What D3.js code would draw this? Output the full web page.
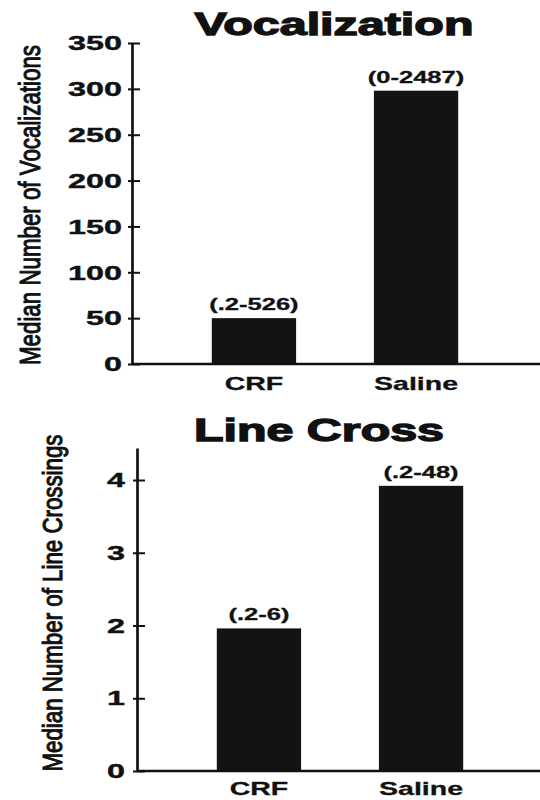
<!DOCTYPE html>
<html>
<head>
<meta charset="utf-8">
<script src="https://cdn.jsdelivr.net/npm/d3@7"></script>
<style>
  body { margin: 0; background: #fff; }
  text { font-family: "Liberation Sans", Arial, Helvetica, sans-serif; fill: #111; }
</style>
</head>
<body>
<div id="chart"></div>
<script>
// data
var categories = ["CRF", "Saline"];

var vocalMedians = [50, 298];
var vocalRanges = ["(.2-526)", "(0-2487)"];
var vocalTicks = [0, 50, 100, 150, 200, 250, 300, 350];

var crossMedians = [1.96, 3.92];
var crossRanges = ["(.2-6)", "(.2-48)"];
var crossTicks = [0, 1, 2, 3, 4];

var W = 540, H = 800;
var ink = "#111";

var svg = d3.select("#chart").append("svg")
    .attr("width", W)
    .attr("height", H);

// the original figure is stretched sideways, so widen horizontal text
function widen(sel, k) {
  sel.each(function() {
    var w = this.getComputedTextLength();
    d3.select(this)
      .attr("textLength", w * k)
      .attr("lengthAdjust", "spacingAndGlyphs");
  });
}

// one panel = title, y axis, bars, range labels, category labels
function panel(opt) {
  var g = svg.append("g");

  var y = d3.scaleLinear()
      .domain([0, opt.yMax])
      .range([opt.y0, opt.yTop]);

  var x = d3.scaleBand()
      .domain(categories)
      .range([opt.left + 2, opt.left + 404])
      .paddingInner(0.48)
      .paddingOuter(0.48);

  // title
  g.append("text")
      .attr("x", opt.titleX)
      .attr("y", opt.titleY)
      .attr("text-anchor", "middle")
      .attr("font-size", 31)
      .attr("font-weight", 700)
      .attr("stroke", ink)
      .attr("stroke-width", 1.3)
      .attr("textLength", opt.titleW)
      .attr("lengthAdjust", "spacingAndGlyphs")
      .text(opt.title);

  // y axis title
  g.append("text")
      .attr("transform", "translate(" + opt.ylabX + "," + opt.ylabY + ") rotate(-90)")
      .attr("text-anchor", "middle")
      .attr("font-size", opt.ylabSize)
      .attr("stroke", ink)
      .attr("stroke-width", 1.1)
      .attr("textLength", opt.ylabW)
      .attr("lengthAdjust", "spacingAndGlyphs")
      .text(opt.ylabel);

  // bars
  g.selectAll(".bar")
      .data(opt.values)
      .enter()
      .append("rect")
      .attr("class", "bar")
      .attr("x", function(d, i) { return x(categories[i]); })
      .attr("y", function(d) { return y(d); })
      .attr("width", x.bandwidth())
      .attr("height", function(d) { return opt.y0 - y(d); })
      .attr("fill", "#131313");

  // range labels above bars
  g.selectAll(".rng")
      .data(opt.ranges)
      .enter()
      .append("text")
      .attr("class", "rng")
      .attr("x", function(d, i) { return x(categories[i]) + x.bandwidth() / 2; })
      .attr("y", function(d, i) { return y(opt.values[i]) - 8; })
      .attr("text-anchor", "middle")
      .attr("font-size", 17)
      .attr("font-weight", 700)
      .attr("stroke", ink)
      .attr("stroke-width", 0.3)
      .text(function(d) { return d; })
      .call(widen, 1.5);

  // x axis: plain line to the right edge, category names below
  g.append("line")
      .attr("x1", opt.left)
      .attr("x2", W)
      .attr("y1", y(0))
      .attr("y2", y(0))
      .attr("stroke", ink)
      .attr("stroke-width", 2.5);

  var xAxis = g.append("g")
      .attr("transform", "translate(0," + y(0) + ")")
      .call(d3.axisBottom(x).tickSize(0).tickPadding(opt.xPad));
  xAxis.attr("font-family", null).attr("font-size", null);
  xAxis.select(".domain").remove();
  xAxis.selectAll("text")
      .attr("font-size", 19)
      .attr("font-weight", 700)
      .attr("stroke", ink)
      .attr("stroke-width", 0.3)
      .attr("fill", ink)
      .attr("dy", null)
      .call(widen, 1.5);

  // y axis, ticks cross the line
  var yAxis = g.append("g")
      .attr("transform", "translate(" + opt.left + ",0)")
      .call(d3.axisLeft(y)
        .tickValues(opt.ticks)
        .tickFormat(d3.format("d"))
        .tickSizeOuter(0)
        .tickPadding(10));
  yAxis.attr("font-family", null).attr("font-size", null);
  yAxis.select(".domain")
      .attr("stroke", ink)
      .attr("stroke-width", 2.7);
  yAxis.selectAll(".tick line")
      .attr("x1", -4)
      .attr("x2", 8)
      .attr("stroke", ink)
      .attr("stroke-width", 2);
  yAxis.selectAll(".tick text")
      .attr("font-size", 21)
      .attr("font-weight", 700)
      .attr("stroke", ink)
      .attr("stroke-width", 0.4)
      .attr("fill", ink)
      .attr("x", -opt.labGap)
      .call(widen, 1.54);
}

panel({
  title: "Vocalization",
  titleX: 334, titleY: 35, titleW: 279,
  ylabel: "Median Number of Vocalizations",
  ylabX: 40, ylabY: 205, ylabSize: 30, ylabW: 320,
  values: vocalMedians,
  ranges: vocalRanges,
  ticks: vocalTicks,
  yMax: 350,
  y0: 364, yTop: 43,
  left: 132,
  labGap: 10,
  xPad: 26
});

panel({
  title: "Line Cross",
  titleX: 319, titleY: 441, titleW: 250,
  ylabel: "Median Number of Line Crossings",
  ylabX: 62, ylabY: 603, ylabSize: 28, ylabW: 337,
  values: crossMedians,
  ranges: crossRanges,
  ticks: crossTicks,
  yMax: 4.44,
  y0: 771, yTop: 448,
  left: 137,
  labGap: 12,
  xPad: 24
});
</script>
</body>
</html>
